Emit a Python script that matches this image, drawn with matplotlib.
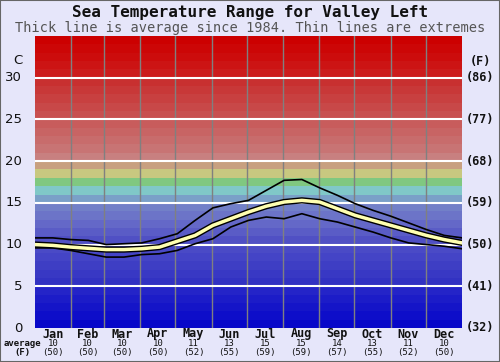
import matplotlib
matplotlib.use("Agg")
import matplotlib.pyplot as plt
import matplotlib.patheffects as pe
from matplotlib.patches import Rectangle
import numpy as np

# ---- data ----
months = ["Jan", "Feb", "Mar", "Apr", "May", "Jun", "Jul", "Aug", "Sep", "Oct", "Nov", "Dec"]
month_days = [31, 28, 31, 30, 31, 30, 31, 31, 30, 31, 30, 31]
avg_c = [10, 10, 10, 10, 11, 13, 15, 15, 14, 13, 11, 10]
avg_f = [50, 50, 50, 50, 52, 55, 59, 59, 57, 55, 52, 50]
left_ticks = [0, 5, 10, 15, 20, 25, 30]
right_ticks = ["(32)", "(41)", "(50)", "(59)", "(68)", "(77)", "(86)"]

# semi-monthly readings (25 points, start of Jan .. end of Dec)
avg_line = [10.0, 9.9, 9.7, 9.55, 9.4, 9.4, 9.5, 9.7, 10.4, 11.1, 12.3, 13.1, 13.9,
            14.6, 15.1, 15.3, 15.1, 14.3, 13.5, 12.9, 12.3, 11.7, 11.1, 10.6, 10.2]
max_line = [10.8, 10.8, 10.6, 10.5, 10.0, 10.1, 10.2, 10.7, 11.3, 12.9, 14.4, 14.9, 15.3,
            16.5, 17.7, 17.8, 16.8, 15.9, 14.9, 14.1, 13.4, 12.6, 11.8, 11.1, 10.8]
min_line = [9.6, 9.6, 9.3, 8.9, 8.5, 8.5, 8.8, 8.9, 9.3, 10.1, 10.7, 12.1, 12.9,
            13.3, 13.1, 13.7, 13.1, 12.7, 12.1, 11.5, 10.8, 10.2, 10.0, 9.8, 9.5]

band_colors = [
    "#0707c9", "#0e0ec9", "#1515c8", "#1c1cc8", "#2424c8",
    "#3232c2", "#3838c4", "#3e3ec4", "#4444c6", "#4a4ac6",
    "#5050c4", "#5a5cc6", "#6468c8", "#6c74c8", "#7280c8",
    "#7aa0c8", "#80c8c8", "#80c880", "#c8c880", "#c8a080",
    "#c88080", "#c87474", "#c86c6c", "#c86464", "#c85c5c",
    "#c85050", "#c84848", "#c84040", "#c83838", "#c83030",
    "#cc1c1c", "#cc1414", "#cc0c0c", "#cc0606", "#cc0000",
]

total_days = sum(month_days)
bounds = np.concatenate([[0], np.cumsum(month_days)])
centers = (bounds[:-1] + bounds[1:]) / 2
xs = np.linspace(0, total_days, len(avg_line))

fig = plt.figure(figsize=(5.0, 3.62), dpi=100)
fig.patch.set_facecolor("#e6e6fa")
ax = fig.add_axes([35 / 500, 34 / 362, 427 / 500, 292 / 362])
ax.set_xlim(0, total_days)
ax.set_ylim(0, 35)

for i, c in enumerate(band_colors):
    ax.axhspan(i, i + 1, color=c, lw=0, zorder=0)
for b in bounds[1:-1]:
    ax.axvline(b, color="#808080", lw=1, zorder=1)
for t in left_ticks[1:]:
    ax.axhline(t, color="white", lw=1.5, zorder=2)

ax.plot(xs, max_line, color="black", lw=1.2, zorder=3)
ax.plot(xs, min_line, color="black", lw=1.2, zorder=3)
ax.plot(xs, avg_line, color="#ffffb0", lw=2.5, zorder=4,
        path_effects=[pe.Stroke(linewidth=4.5, foreground="black"), pe.Normal()])

ax.set_xticks([])
ax.set_yticks([])
for s in ax.spines.values():
    s.set_visible(False)

# texts
fig.text(0.5, 1 - 12 / 362, "Sea Temperature Range for Valley Left", ha="center", va="center",
         family="DejaVu Sans Mono", weight="bold", fontsize=11.5, color="#111111")
fig.text(0.5, 1 - 28 / 362, "Thick line is average since 1984. Thin lines are extremes",
         ha="center", va="center", family="DejaVu Sans Mono", fontsize=9.8, color="#555555")

for t in left_ticks:
    ax.text(-11, t, str(t), transform=ax.transData, ha="right", va="center",
            fontsize=9.5, family="DejaVu Sans", color="#111111", clip_on=False)
for t, lab in zip(left_ticks, right_ticks):
    ax.text(total_days + 3, t, lab, ha="left", va="center", fontsize=8.5,
            family="DejaVu Sans Mono", weight="bold", color="#111111", clip_on=False)
fig.text(18 / 500, 1 - 61 / 362, "C", ha="center", va="center", fontsize=9.5,
         family="DejaVu Sans", color="#111111")
fig.text(480 / 500, 1 - 62 / 362, "(F)", ha="center", va="center", fontsize=8.5,
         family="DejaVu Sans Mono", weight="bold", color="#111111")

for cx, m, c, f in zip(centers, months, avg_c, avg_f):
    xf = (35 + cx / total_days * 427) / 500
    fig.text(xf, 1 - 334 / 362, m, ha="center", va="center", fontsize=8.5,
             family="DejaVu Sans Mono", weight="bold", color="#111111")
    fig.text(xf, 1 - 343.5 / 362, str(c), ha="center", va="center", fontsize=6.5,
             family="DejaVu Sans Mono", color="#111111")
    fig.text(xf, 1 - 353 / 362, f"({f})", ha="center", va="center", fontsize=6.5,
             family="DejaVu Sans Mono", color="#111111")
fig.text(22 / 500, 1 - 343.5 / 362, "average", ha="center", va="center", fontsize=6.5,
         family="DejaVu Sans Mono", weight="bold", color="#111111")
fig.text(22 / 500, 1 - 353 / 362, "(F)", ha="center", va="center", fontsize=6.5,
         family="DejaVu Sans Mono", weight="bold", color="#111111")

fig.add_artist(Rectangle((0, 0), 1, 1, transform=fig.transFigure, fill=False,
                         edgecolor="#666666", lw=1.5))

fig.savefig("out.png", dpi=100, facecolor=fig.get_facecolor())
